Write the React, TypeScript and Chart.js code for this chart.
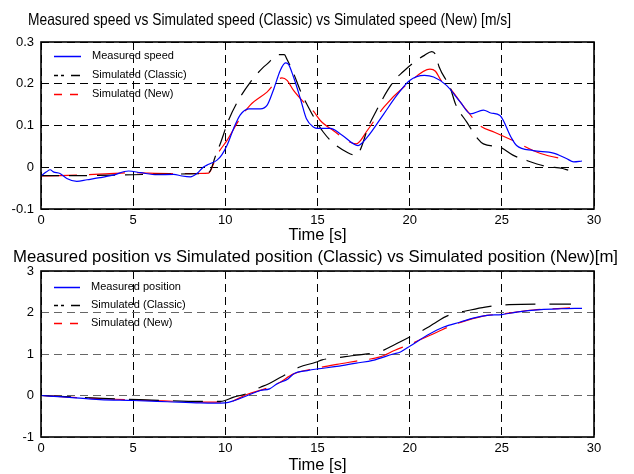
import React, { useEffect, useRef } from 'react';
import { Chart, registerables } from 'chart.js';
Chart.register(...registerables);

const FONT_FAMILY = '"Liberation Sans", Arial, sans-serif';

// ---------- Data: speed panel ----------
const speedTitle = 'Measured speed vs Simulated speed (Classic) vs Simulated speed (New) [m/s]';
const speedLegend = ['Measured speed', 'Simulated (Classic)', 'Simulated (New)'];
const speedYTicks = [-0.1, 0, 0.1, 0.2, 0.3];

const speedMeasuredT = [0, 0.3, 0.5, 0.67, 1.03, 1.4, 1.94, 2.5, 3.2, 3.9, 4.75, 5.4, 6.3, 7.2, 7.65, 8.1, 8.46, 8.8, 9.1, 9.55, 9.8, 10.1, 10.45, 10.8, 11.27, 11.9, 12.26, 12.6, 12.98, 13.26, 13.4, 13.7, 14.1, 14.4, 14.8, 15.0, 15.7, 16.3, 17.2, 17.7, 18.6, 19.3, 20, 20.8, 21.3, 22.0, 22.75, 23.3, 24.0, 24.4, 24.9, 25.5, 25.8, 26.7, 27.8, 28.5, 28.9, 29.35];
const speedMeasuredV = [-0.021, -0.011, -0.006, -0.011, -0.015, -0.027, -0.034, -0.03, -0.025, -0.019, -0.009, -0.013, -0.018, -0.017, -0.021, -0.023, -0.015, 0.0, 0.007, 0.017, 0.029, 0.053, 0.093, 0.125, 0.14, 0.14, 0.148, 0.184, 0.232, 0.25, 0.248, 0.216, 0.16, 0.116, 0.096, 0.093, 0.093, 0.078, 0.052, 0.072, 0.128, 0.172, 0.208, 0.22, 0.216, 0.196, 0.156, 0.128, 0.137, 0.13, 0.124, 0.072, 0.052, 0.04, 0.034, 0.021, 0.013, 0.015];

const speedClassicT = [0, 2, 4, 6, 8, 9.0, 9.2, 9.45, 9.73, 10.18, 10.7, 11.36, 12.0, 12.26, 12.9, 13.2, 13.35, 13.7, 14.1, 14.6, 15.0, 15.3, 15.8, 16.6, 17.05, 17.3, 17.75, 18.2, 18.8, 19.3, 19.5, 20.2, 20.8, 21.2, 21.4, 21.6, 22.2, 22.5, 23.1, 23.7, 24.0, 24.9, 25.6, 26.3, 27.4, 28.3, 28.6];
const speedClassicV = [-0.02, -0.02, -0.019, -0.017, -0.016, -0.014, -0.007, 0.025, 0.057, 0.113, 0.16, 0.204, 0.237, 0.247, 0.27, 0.27, 0.258, 0.225, 0.18, 0.136, 0.105, 0.085, 0.06, 0.036, 0.029, 0.04, 0.096, 0.136, 0.184, 0.215, 0.223, 0.25, 0.268, 0.277, 0.27, 0.24, 0.19, 0.15, 0.108, 0.068, 0.056, 0.048, 0.029, 0.017, 0.002, -0.003, -0.007];

const speedNewT = [0, 1, 2.5, 3.5, 5, 5.7, 7, 8, 9.1, 9.2, 9.55, 10.1, 10.8, 11.35, 12.26, 13.07, 13.35, 13.7, 14.25, 14.8, 15.15, 15.85, 17.1, 17.7, 18.6, 20, 21.1, 21.4, 21.7, 22.1, 23.1, 23.8, 24.6, 25.6, 27.1, 28.7];
const speedNewV = [-0.021, -0.02, -0.018, -0.016, -0.013, -0.014, -0.015, -0.015, -0.014, -0.008, 0.029, 0.065, 0.117, 0.149, 0.18, 0.214, 0.208, 0.184, 0.156, 0.133, 0.112, 0.088, 0.056, 0.088, 0.144, 0.204, 0.235, 0.23, 0.208, 0.193, 0.136, 0.1, 0.084, 0.064, 0.033, 0.017];

// ---------- Data: position panel ----------
const posTitle = 'Measured position vs Simulated position (Classic) vs Simulated position (New)[m]';
const posLegend = ['Measured position', 'Simulated (Classic)', 'Simulated (New)'];
const posYTicks = [-1, 0, 1, 2, 3];

const posMeasuredT = [0, 1.4, 3.2, 5, 6.85, 8.65, 9.4, 10, 10.5, 11.2, 11.9, 12.4, 12.8, 13.4, 13.7, 14.45, 15, 16.05, 17.1, 18.0, 19.1, 19.5, 20.05, 20.95, 21.85, 22.75, 23.5, 24.2, 25, 25.8, 27.1, 28.2, 29.35];
const posMeasuredV = [0, -0.04, -0.1, -0.12, -0.15, -0.18, -0.185, -0.18, -0.12, 0, 0.12, 0.16, 0.28, 0.4, 0.52, 0.6, 0.64, 0.7, 0.78, 0.845, 1.0, 1.05, 1.2, 1.45, 1.65, 1.77, 1.87, 1.93, 1.95, 2.01, 2.07, 2.09, 2.1];

const posClassicT = [0, 2, 4, 6, 8, 9.75, 10.45, 11.2, 11.9, 12.3, 13.0, 14.0, 14.9, 15.25, 16.05, 17.1, 18.4, 19.2, 20, 20.95, 21.3, 22.1, 23.3, 24.1, 25.4, 27.5, 28.75];
const posClassicV = [0, -0.04, -0.08, -0.11, -0.14, -0.14, -0.04, 0.05, 0.2, 0.27, 0.44, 0.68, 0.8, 0.86, 0.91, 0.97, 1.06, 1.23, 1.41, 1.63, 1.73, 1.93, 2.06, 2.13, 2.19, 2.2, 2.2];

const posNewT = [0, 2, 4, 6, 8, 9.2, 10.1, 11.2, 12.4, 12.9, 13.7, 15, 16.05, 17.1, 18.4, 19.2, 20.05, 21.5, 22.3, 23.1, 24.2, 24.9, 26.7, 28.7];
const posNewV = [0, -0.05, -0.09, -0.12, -0.15, -0.16, -0.16, 0.03, 0.2, 0.3, 0.52, 0.66, 0.75, 0.83, 0.93, 1.09, 1.24, 1.53, 1.69, 1.81, 1.93, 1.96, 2.06, 2.11];

const timeTicks = [0, 5, 10, 15, 20, 25, 30];
const xAxisLabel = 'Time [s]';

const COLORS = ['#0000ff', '#000000', '#ff0000'];

function pts(t: number[], v: number[]) {
  return t.map((x, i) => ({ x, y: v[i] }));
}

type PanelCfg = {
  title: string;
  titleX0: number;
  titleX1: number;
  titleBase: number;
  xLabelBase: number;
  legend: string[];
  legendRows: number[];
  legendX0: number;
  legendX1: number;
  legendTextX: number;
  yTicks: number[];
  series: { t: number[]; v: number[] }[];
  classicDash: number[];
  padTop: number;
  padRight: number;
  yWidth: number;
  xHeight: number;
  xTickPad: number;
  hGridColor: string;
};

function fmt(v: number) {
  return String(Number(v.toFixed(3)));
}

// horizontal dashed legend sample built from filled rectangles
function legendSample(ctx: CanvasRenderingContext2D, x0: number, x1: number, y: number, pattern: number[], color: string) {
  ctx.fillStyle = color;
  const h = 1.5;
  if (!pattern.length) {
    ctx.fillRect(x0, y - 0.25, x1 - x0, h);
    return;
  }
  let x = x0;
  let k = 0;
  while (x < x1) {
    const len = pattern[k % pattern.length];
    if (k % 2 === 0) ctx.fillRect(x, y - 0.25, Math.min(len, x1 - x), h);
    x += len;
    k++;
  }
}

function buildChart(canvas: HTMLCanvasElement, p: PanelCfg) {
  const dashes = [[], p.classicDash, [36, 12]];
  const legendDashes = [[], [4, 3, 3, 7, 9, 3], [8, 8]];
  const decor = {
    id: 'decor',
    afterDraw(chart: any) {
      const ctx = chart.ctx as CanvasRenderingContext2D;
      const a = chart.chartArea;
      ctx.save();
      ctx.setLineDash([]);
      ctx.globalAlpha = 1;
      ctx.strokeStyle = '#000';
      ctx.lineWidth = 1.6;
      ctx.strokeRect(a.left, a.top, a.right - a.left, a.bottom - a.top);
      for (let i = 0; i < 3; i++) {
        const y = p.legendRows[i];
        legendSample(ctx, p.legendX0, p.legendX1, y, legendDashes[i], COLORS[i]);
        ctx.fillStyle = '#000';
        ctx.font = `11px ${FONT_FAMILY}`;
        ctx.textAlign = 'left';
        ctx.textBaseline = 'middle';
        ctx.fillText(p.legend[i], p.legendTextX, y);
      }
      ctx.font = `16.5px ${FONT_FAMILY}`;
      const w = ctx.measureText(p.title).width;
      ctx.save();
      ctx.translate(p.titleX0, p.titleBase);
      ctx.scale((p.titleX1 - p.titleX0) / w, 1);
      ctx.textAlign = 'left';
      ctx.textBaseline = 'alphabetic';
      ctx.fillStyle = '#000';
      ctx.fillText(p.title, 0, 0);
      ctx.restore();
      ctx.font = `16.5px ${FONT_FAMILY}`;
      ctx.textAlign = 'center';
      ctx.textBaseline = 'alphabetic';
      ctx.fillStyle = '#000';
      ctx.fillText(xAxisLabel, (a.left + a.right) / 2, p.xLabelBase);
      ctx.restore();
    },
  };

  return new Chart(canvas, {
    type: 'line',
    data: {
      datasets: p.series.map((s, i) => ({
        label: p.legend[i],
        data: pts(s.t, s.v),
        borderColor: COLORS[i],
        backgroundColor: COLORS[i],
        borderWidth: 1.2,
        borderDash: dashes[i],
        pointRadius: 0,
        fill: false,
        cubicInterpolationMode: 'monotone' as const,
      })),
    },
    options: {
      responsive: false,
      animation: false,
      devicePixelRatio: 1,
      layout: { padding: { left: 0, right: p.padRight, top: p.padTop, bottom: 0 } },
      plugins: { legend: { display: false }, title: { display: false }, tooltip: { enabled: false } },
      scales: {
        x: {
          type: 'linear',
          min: 0,
          max: 30,
          afterBuildTicks: (s: any) => {
            s.ticks = timeTicks.map((v) => ({ value: v }));
          },
          afterFit: (s: any) => {
            s.height = p.xHeight;
          },
          ticks: {
            color: '#000',
            font: { family: FONT_FAMILY, size: 13 },
            padding: p.xTickPad,
            maxRotation: 0,
            autoSkip: false,
            callback: (v: any) => fmt(Number(v)),
          },
          grid: { color: '#000', lineWidth: 1, drawTicks: false, tickLength: 0 },
          border: { display: false, dash: [8, 5] },
        },
        y: {
          type: 'linear',
          min: p.yTicks[0],
          max: p.yTicks[p.yTicks.length - 1],
          afterBuildTicks: (s: any) => {
            s.ticks = p.yTicks.map((v) => ({ value: v }));
          },
          afterFit: (s: any) => {
            s.width = p.yWidth;
          },
          ticks: {
            color: '#000',
            font: { family: FONT_FAMILY, size: 13 },
            padding: 7,
            autoSkip: false,
            callback: (v: any) => fmt(Number(v)),
          },
          grid: { color: p.hGridColor, lineWidth: 1, drawTicks: false, tickLength: 0 },
          border: { display: false, dash: [8, 5] },
        },
      },
    },
    plugins: [decor],
  } as any);
}

export default function App() {
  const topRef = useRef<HTMLCanvasElement>(null);
  const botRef = useRef<HTMLCanvasElement>(null);

  useEffect(() => {
    const top = buildChart(topRef.current!, {
      title: speedTitle,
      titleX0: 28,
      titleX1: 511,
      titleBase: 25,
      xLabelBase: 240,
      legend: speedLegend,
      legendRows: [56, 75, 94],
      legendX0: 54,
      legendX1: 81,
      legendTextX: 92,
      yTicks: speedYTicks,
      series: [
        { t: speedMeasuredT, v: speedMeasuredV },
        { t: speedClassicT, v: speedClassicV },
        { t: speedNewT, v: speedNewV },
      ],
      classicDash: [18, 10],
      padTop: 42,
      padRight: 40,
      yWidth: 41,
      xHeight: 41,
      xTickPad: 4,
      hGridColor: '#000',
    });
    const bot = buildChart(botRef.current!, {
      title: posTitle,
      titleX0: 13,
      titleX1: 618,
      titleBase: 22,
      xLabelBase: 230,
      legend: posLegend,
      legendRows: [47, 65, 83],
      legendX0: 54,
      legendX1: 80,
      legendTextX: 91,
      yTicks: posYTicks,
      series: [
        { t: posMeasuredT, v: posMeasuredV },
        { t: posClassicT, v: posClassicV },
        { t: posNewT, v: posNewV },
      ],
      classicDash: [30, 14],
      padTop: 31,
      padRight: 40,
      yWidth: 41,
      xHeight: 37,
      xTickPad: 4,
      hGridColor: '#666',
    });
    return () => {
      top.destroy();
      bot.destroy();
    };
  }, []);

  return (
    <div style={{ position: 'absolute', left: 0, top: 0, width: 634, height: 474, background: '#fff', overflow: 'hidden' }}>
      <canvas ref={topRef} width={634} height={250} style={{ position: 'absolute', left: 0, top: 0, width: 634, height: 250 }} />
      <canvas ref={botRef} width={634} height={234} style={{ position: 'absolute', left: 0, top: 240, width: 634, height: 234 }} />
    </div>
  );
}
